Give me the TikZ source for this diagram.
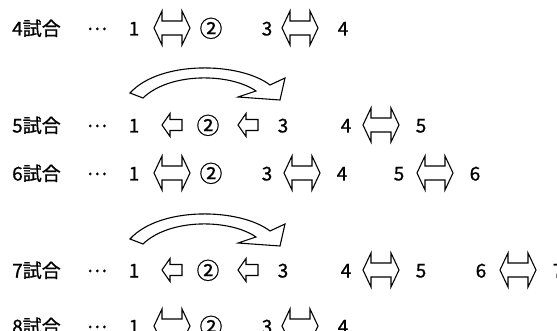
\documentclass[tikz,border=0pt]{standalone}
\usepackage{fontspec}
\newfontfamily\jp[FakeBold=0.8]{Noto Sans CJK JP}
\newcommand{\midots}{\raisebox{5.5pt}{…}}
\newcommand{\circtwo}{\raisebox{-1.5pt}{\scalebox{1.2}{②}}}
\begin{document}
\begin{tikzpicture}[x=1pt,y=-1pt,
  txt/.style={inner sep=0pt, anchor=base, font=\jp\fontsize{19}{22}\selectfont},
  lbl/.style={txt, anchor=base west},
  shapeline/.style={draw=black, fill=white, line width=1.1pt, line join=miter},
  lrarrow/.pic={\draw[shapeline] (-18,0) -- (-10,-17) -- (-10,-7) -- (10,-7) -- (10,-17) -- (18,0) -- (10,17) -- (10,7) -- (-10,7) -- (-10,17) -- cycle;},
  larrow/.pic={\draw[shapeline] (-10,0) -- (-2,-11.5) -- (-2,-5.5) -- (10,-5.5) -- (10,5.5) -- (-2,5.5) -- (-2,11.5) -- cycle;},
  curvedarrow/.pic={\draw[shapeline] (130,93) .. controls (160,60) and (240,62) .. (270,85) -- (285,78) -- (280,100) -- (238,97) -- (256,91) .. controls (230,73) and (170,72) .. (143,98) -- cycle;}
]
\useasboundingbox (0,0) rectangle (557,331);
\clip (0,0) rectangle (557,331);
% row 1
\node[lbl] (l4) at (12,35.5) {4試合};
\node[txt] (d4) at (97,35.5) {\midots};
\node[txt] (a4) at (134,35.5) {1};
\pic at (172,28) {lrarrow};
\node[txt] (b4) at (211,35.5) {\circtwo};
\node[txt] (c4) at (267,35.5) {3};
\pic at (300,28) {lrarrow};
\node[txt] (e4) at (343,35.5) {4};
% curved arrow 1
\pic at (0,0) {curvedarrow};
% row 2
\node[lbl] (l5) at (12,132.5) {5試合};
\node[txt] (d5) at (97,132.5) {\midots};
\node[txt] (a5) at (134,132.5) {1};
\pic at (172,125) {larrow};
\node[txt] (b5) at (208,132.5) {\circtwo};
\pic at (248,125) {larrow};
\node[txt] (c5) at (283,132.5) {3};
\node[txt] (e5) at (346,132.5) {4};
\pic at (381,125) {lrarrow};
\node[txt] (f5) at (421,132.5) {5};
% row 3
\node[lbl] (l6) at (12,180.5) {6試合};
\node[txt] (d6) at (97,180.5) {\midots};
\node[txt] (a6) at (134,180.5) {1};
\pic at (172,173) {lrarrow};
\node[txt] (b6) at (211,180.5) {\circtwo};
\node[txt] (c6) at (267,180.5) {3};
\pic at (302,173) {lrarrow};
\node[txt] (e6) at (342,180.5) {4};
\node[txt] (f6) at (399,180.5) {5};
\pic at (435,173) {lrarrow};
\node[txt] (g6) at (475,180.5) {6};
% curved arrow 2
\pic at (0,146) {curvedarrow};
% row 4
\node[lbl] (l7) at (12,277.5) {7試合};
\node[txt] (d7) at (97,277.5) {\midots};
\node[txt] (a7) at (134,277.5) {1};
\pic at (172,270) {larrow};
\node[txt] (b7) at (208,277.5) {\circtwo};
\pic at (248,270) {larrow};
\node[txt] (c7) at (283,277.5) {3};
\node[txt] (e7) at (346,277.5) {4};
\pic at (381,270) {lrarrow};
\node[txt] (f7) at (421,277.5) {5};
\node[txt] (g7) at (481,277.5) {6};
\pic at (518,270) {lrarrow};
\node[txt] (h7) at (558,277.5) {7};
% row 5
\node[lbl] (l8) at (12,333.5) {8試合};
\node[txt] (d8) at (97,333.5) {\midots};
\node[txt] (a8) at (134,333.5) {1};
\pic at (172,326) {lrarrow};
\node[txt] (b8) at (211,333.5) {\circtwo};
\node[txt] (c8) at (267,333.5) {3};
\pic at (300,326) {lrarrow};
\node[txt] (e8) at (343,333.5) {4};
\end{tikzpicture}
\end{document}
